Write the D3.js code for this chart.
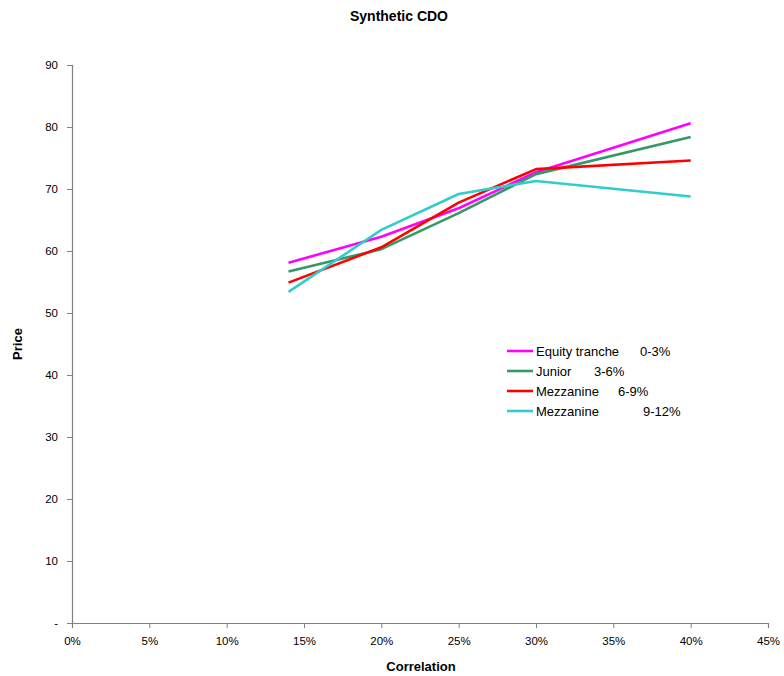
<!DOCTYPE html>
<html>
<head>
<meta charset="utf-8">
<script src="https://cdn.jsdelivr.net/npm/d3@7"></script>
<style>
  html, body { margin: 0; padding: 0; background: #fff; }
  svg { display: block; font-family: "Liberation Sans", Arial, sans-serif; }
</style>
</head>
<body>
<svg id="chart" width="784" height="676"></svg>
<script>
// Correlation levels (x) and tranche prices (y)
const correlation = [0.14, 0.20, 0.25, 0.30, 0.40];
const equityPrices = [58.1, 62.3, 66.9, 72.7, 80.6];
const juniorPrices = [56.7, 60.3, 66.1, 72.4, 78.4];
const mezz69Prices = [54.9, 60.6, 67.8, 73.2, 74.6];
const mezz912Prices = [53.4, 63.4, 69.2, 71.3, 68.8];

const seriesNames = ["Equity tranche", "Junior", "Mezzanine", "Mezzanine"];
const seriesBands = ["0-3%", "3-6%", "6-9%", "9-12%"];
const seriesColors = ["#ff00ff", "#339966", "#ff0000", "#33cccc"];

const xTicks = [0, 0.05, 0.10, 0.15, 0.20, 0.25, 0.30, 0.35, 0.40, 0.45];
const yTicks = [0, 10, 20, 30, 40, 50, 60, 70, 80, 90];

const series = [equityPrices, juniorPrices, mezz69Prices, mezz912Prices].map((vals, i) => ({
  name: seriesNames[i],
  band: seriesBands[i],
  color: seriesColors[i],
  points: vals.map((v, j) => ({ x: correlation[j], y: v }))
}));

const svg = d3.select("#chart");
const plot = { left: 72, right: 768, top: 65, bottom: 623 };

const x = d3.scaleLinear().domain([0, 0.45]).range([plot.left, plot.right]);
const y = d3.scaleLinear().domain([0, 90]).range([plot.bottom, plot.top]);

// Title
svg.append("text")
  .attr("x", 399).attr("y", 21)
  .attr("text-anchor", "middle")
  .attr("font-size", 14).attr("font-weight", "bold")
  .text("Synthetic CDO");

// Y axis
const yAxis = d3.axisLeft(y)
  .tickValues(yTicks)
  .tickSize(5)
  .tickPadding(9)
  .tickFormat(d => d === 0 ? "-" : d3.format("d")(d));
const gy = svg.append("g")
  .attr("transform", `translate(${plot.left},0)`)
  .call(yAxis);

// X axis
const xAxis = d3.axisBottom(x)
  .tickValues(xTicks)
  .tickSize(5)
  .tickPadding(9)
  .tickFormat(d3.format(".0%"));
const gx = svg.append("g")
  .attr("transform", `translate(0,${plot.bottom})`)
  .call(xAxis);

[gx, gy].forEach(g => {
  g.select(".domain").attr("stroke", "#808080").attr("stroke-width", 1.2);
  g.selectAll(".tick line").attr("stroke", "#808080");
  g.selectAll(".tick text")
    .attr("fill", "#000")
    .attr("font-size", 11.5)
    .attr("font-family", "'Liberation Sans', Arial, sans-serif");
});

// Axis titles
svg.append("text")
  .attr("x", 421).attr("y", 671)
  .attr("text-anchor", "middle")
  .attr("font-size", 13).attr("font-weight", "bold")
  .text("Correlation");

svg.append("text")
  .attr("transform", "translate(22,344) rotate(-90)")
  .attr("text-anchor", "middle")
  .attr("font-size", 13).attr("font-weight", "bold")
  .text("Price");

// Series lines
const line = d3.line().x(d => x(d.x)).y(d => y(d.y));
svg.append("g").selectAll("path")
  .data(series)
  .join("path")
  .attr("d", d => line(d.points))
  .attr("fill", "none")
  .attr("stroke", d => d.color)
  .attr("stroke-width", 2.6)
  .attr("stroke-linejoin", "round");

// Legend
const bandX = [640, 594, 618, 643];
const legend = svg.append("g").attr("transform", "translate(507,351)");
const rows = legend.selectAll("g")
  .data(series)
  .join("g")
  .attr("transform", (d, i) => `translate(0,${i * 20})`);
rows.append("line")
  .attr("x1", 0).attr("x2", 26)
  .attr("y1", 0).attr("y2", 0)
  .attr("stroke", d => d.color)
  .attr("stroke-width", 2.6);
rows.append("text")
  .attr("x", 29).attr("y", 4.5)
  .attr("font-size", 13)
  .text(d => d.name);
rows.append("text")
  .attr("x", (d, i) => bandX[i] - 507).attr("y", 4.5)
  .attr("font-size", 13)
  .text(d => d.band);
</script>
</body>
</html>
